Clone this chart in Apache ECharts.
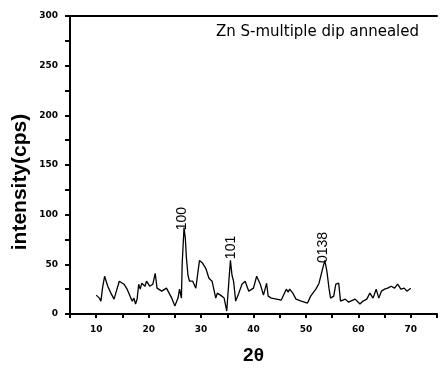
<!DOCTYPE html>
<html>
<head>
<meta charset="utf-8">
<script src="https://cdn.jsdelivr.net/npm/echarts@6/dist/echarts.min.js"></script>
<style>
  html, body { margin: 0; padding: 0; background: #fff; }
  #chart { width: 440px; height: 370px; }
</style>
</head>
<body>
<div id="chart"></div>
<script>
// 2theta / intensity
var twoTheta = [10, 10.6, 10.9, 11.2, 11.6, 12.2, 12.8, 13.4, 13.75, 14.4, 15.3, 15.9, 16.6, 16.9, 17.2, 17.5, 17.8,
  18.1, 18.4, 18.7, 19.3, 19.6, 20.2, 20.8, 21.25, 21.6, 22.5, 23.4, 24.4, 25, 25.6, 25.9, 26.25, 26.4, 26.75,
  27, 27.2, 27.5, 27.8, 28.4, 29, 29.7, 30.3, 30.9, 31.5, 32.1, 32.8, 33.1, 33.7, 34.4, 34.9, 35.3, 35.6, 35.9,
  36.2, 36.6, 37.2, 37.8, 38.4, 39.1, 40, 40.6, 41.3, 41.9, 42.5, 42.8, 43.4, 44.4, 45.3, 46.25, 46.6, 46.9,
  47.5, 48.1, 49.1, 50.3, 50.9, 51.9, 52.5, 53.1, 53.6, 54, 54.4, 54.7, 55.3, 55.7, 56.25, 56.6, 57.5, 58.1,
  59.4, 60.3, 60.9, 61.6, 62.2, 62.8, 63.4, 63.9, 64.4, 65, 65.6, 66.25, 66.9, 67.5, 68.1, 68.75, 69.25, 70];
var intensity = [19, 16, 13, 26, 38, 28, 21, 15, 13, 33, 30, 25, 16, 13, 16, 10, 15,
  30, 25, 31, 28, 33, 28, 30, 41, 26, 23, 26, 16, 8, 16, 25, 16, 51, 87,
  76, 57, 39, 33, 33, 26, 54, 51, 46, 36, 33, 16, 21, 19, 16, 3, 33, 54, 39,
  33, 13, 21, 30, 33, 23, 26, 38, 30, 19, 31, 18, 16, 15, 14, 25, 22, 25,
  21, 15, 13, 11, 18, 25, 31, 44, 54, 43, 26, 16, 18, 30, 31, 13, 15, 12,
  15, 10, 13, 15, 21, 16, 25, 16, 23, 25, 26, 28, 26, 30, 25, 26, 23, 26];
var peakLabels = ['100', '101', '0138'];
var peakPos = [[26.4, 96], [35.7, 67], [53.3, 67]];

var points = twoTheta.map(function (x, i) { return [x, intensity[i]]; });

var tickFont = { fontFamily: 'DejaVu Sans', fontWeight: 'bold', fontSize: 9, color: '#000' };
var chart = echarts.init(document.getElementById('chart'), null, { renderer: 'canvas' });
chart.setOption({
  animation: false,
  backgroundColor: '#fff',
  grid: { left: 70, top: 16, width: 373, height: 304 },
  xAxis: [{
    type: 'value', min: 5, max: 75, interval: 5,
    name: '2θ', nameLocation: 'middle', nameGap: 32,
    nameTextStyle: { fontFamily: 'Liberation Sans', fontWeight: 'bold', fontSize: 19, color: '#000' },
    axisLine: { lineStyle: { color: '#000', width: 2 } },
    axisTick: { inside: false, length: 4, lineStyle: { color: '#000', width: 2 } },
    axisLabel: Object.assign({ margin: 11, formatter: function (v) { return v % 10 === 0 && v <= 70 ? v : ''; } }, tickFont),
    splitLine: { show: false }
  }, {
    type: 'value', position: 'top', min: 5, max: 75,
    axisLine: { show: true, onZero: false, lineStyle: { color: '#000', width: 2 } },
    axisTick: { show: false }, axisLabel: { show: false }, splitLine: { show: false }
  }],
  yAxis: {
    type: 'value', min: 0, max: 300, interval: 25,
    axisLine: { show: true, lineStyle: { color: '#000', width: 2 } },
    axisTick: { show: true, inside: false, length: 5, lineStyle: { color: '#000', width: 2 } },
    axisLabel: Object.assign({ margin: 12, formatter: function (v) { return v % 50 === 0 ? v : ''; } }, tickFont),
    splitLine: { show: false }
  },
  graphic: [{
    type: 'text', x: 20, y: 182, rotation: Math.PI / 2,
    style: { text: 'intensity(cps)', fontFamily: 'Liberation Sans', fontWeight: 'bold', fontSize: 21,
      fill: '#000', align: 'center', verticalAlign: 'middle' }
  }, {
    type: 'text', x: 216, y: 32,
    style: { text: 'Zn S-multiple dip annealed', fontFamily: 'DejaVu Sans', fontSize: 15,
      fill: '#000', align: 'left', verticalAlign: 'middle' }
  }],
  series: [{
    type: 'line', data: points, symbol: 'none',
    lineStyle: { color: '#000', width: 1.3 },
    markPoint: {
      symbol: 'circle', symbolSize: 1,
      itemStyle: { color: 'rgba(0,0,0,0)' },
      label: { show: true, position: 'inside', rotate: 90, color: '#000',
        fontFamily: 'Liberation Sans', fontSize: 14 },
      data: peakLabels.map(function (t, i) {
        return { coord: peakPos[i], value: t, label: { formatter: t } };
      })
    }
  }]
});
</script>
</body>
</html>
